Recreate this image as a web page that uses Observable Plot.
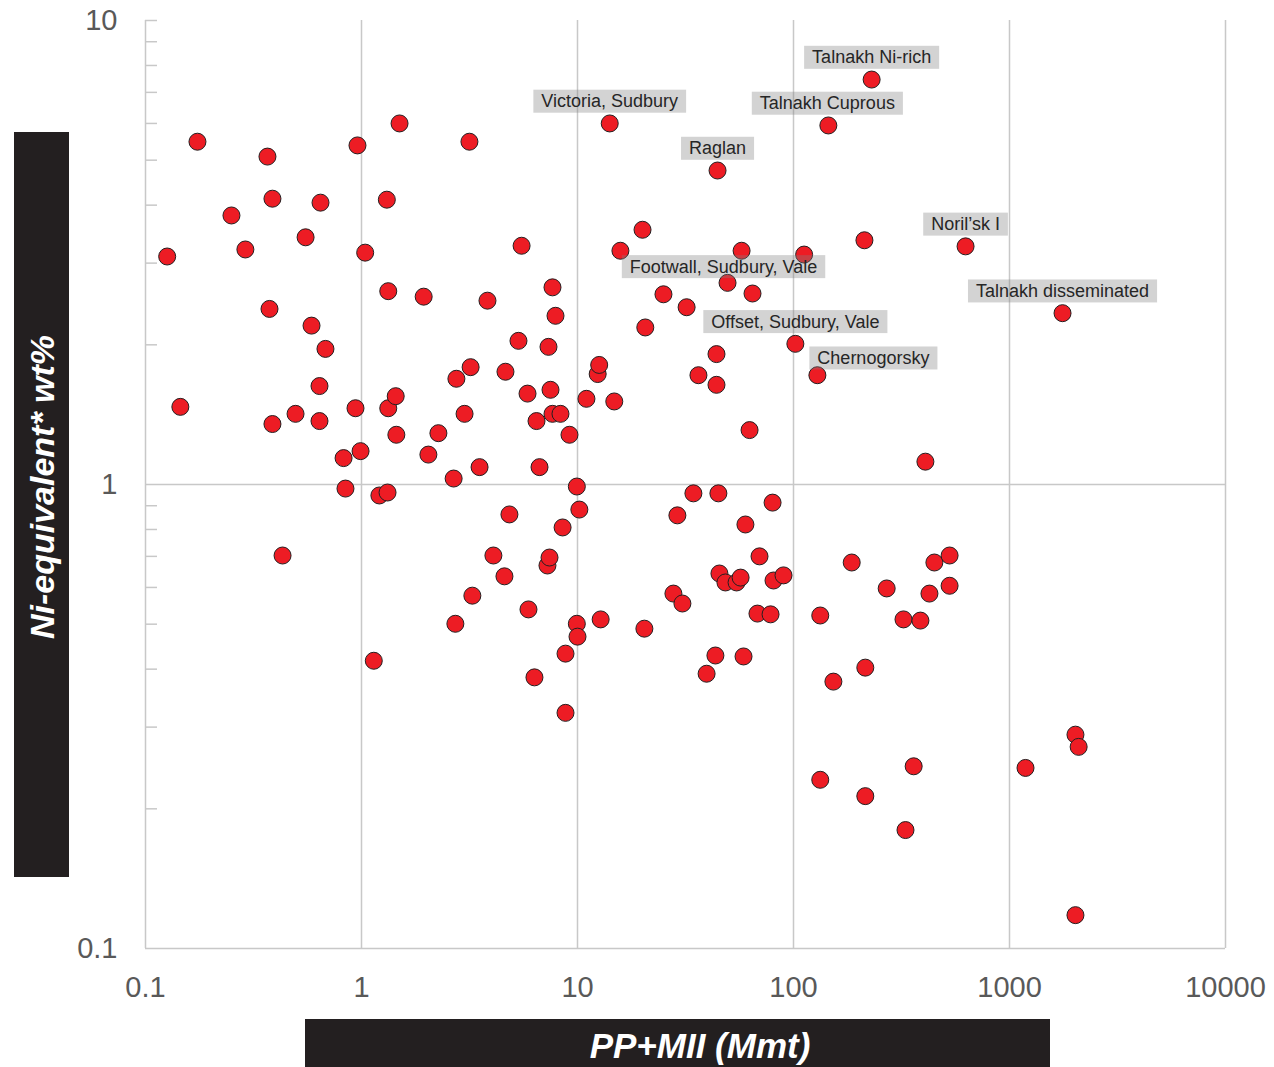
<!DOCTYPE html>
<html>
<head>
<meta charset="utf-8">
<script src="https://cdn.jsdelivr.net/npm/d3@7"></script>
<script src="https://cdn.jsdelivr.net/npm/@observablehq/plot@0.6"></script>
<style>
  body { margin: 0; background: #fff; font-family: "Liberation Sans", Arial, sans-serif; }
  #wrap { position: relative; width: 1274px; height: 1067px; overflow: hidden; background: #fff; }
  #wrap svg { position: absolute; left: 0; top: 0; }
  .ybox { position: absolute; left: 14px; top: 132px; width: 55px; height: 745px; background: #231f20; }
  .ytitle { position: absolute; left: 41.5px; top: 487px; transform: translate(-50%, -50%) rotate(-90deg);
            color: #fff; font-weight: bold; font-style: italic; font-size: 34px; white-space: nowrap; line-height: 1; }
  .xbox { position: absolute; left: 305px; top: 1019px; width: 745px; height: 60px; background: #231f20; }
  .xtitle { position: absolute; left: 700px; top: 1045px; transform: translate(-50%, -50%);
            color: #fff; font-weight: bold; font-style: italic; font-size: 35px; white-space: nowrap; line-height: 1; }
</style>
</head>
<body>
<div id="wrap">
  <div class="ybox"></div>
  <div class="xbox"></div>
</div>
<script>
// ---- Data ----
// Unlabelled deposits: PP+MII (Mmt) and Ni-equivalent wt%
const ppMii = [
  0.126, 0.174, 0.145, 0.250, 0.290, 0.367, 0.387, 0.375, 0.387, 0.431,
  0.495, 0.551, 0.587, 0.646, 0.639, 0.639, 0.681, 0.826, 0.843, 0.938,
  0.958, 0.990, 1.04, 1.14, 1.21, 1.32, 1.31, 1.33, 1.33, 1.44,
  1.50, 1.45, 1.94, 2.04, 2.27, 2.67, 2.72, 2.75, 3.00, 3.16,
  3.20, 3.26, 3.52, 3.83, 4.08, 4.59, 4.64, 4.84, 5.33, 5.51,
  5.93, 5.87, 6.32, 6.46, 6.67, 7.26, 7.42, 7.34, 7.50, 7.66,
  7.66, 7.91, 8.34, 8.53, 8.80, 8.80, 9.18, 9.93, 9.93, 10.0,
  10.2, 11.0, 12.4, 12.6, 12.8, 14.8, 15.8, 20.0, 20.4, 20.6,
  25.0, 27.8, 29.0, 30.6, 32.0, 34.4, 36.3, 39.6, 43.5, 44.0,
  44.0, 44.9, 45.4, 48.4, 54.5, 56.9, 57.5, 58.7, 59.9, 62.6,
  64.6, 69.6, 68.1, 78.3, 80.0, 80.8, 89.9, 112, 133, 133,
  153, 186, 213, 215, 215, 270, 323, 330, 360, 387,
  408, 426, 449, 528, 528, 1186, 2020, 2090, 2020
];
const niEq = [
  3.10, 5.48, 1.47, 3.80, 3.21, 5.09, 4.13, 2.39, 1.35, 0.703,
  1.42, 3.41, 2.20, 4.05, 1.63, 1.37, 1.96, 1.14, 0.980, 1.46,
  5.38, 1.18, 3.16, 0.417, 0.947, 0.961, 4.11, 2.61, 1.46, 1.55,
  6.00, 1.28, 2.54, 1.16, 1.29, 1.03, 0.501, 1.69, 1.42, 5.48,
  1.79, 0.576, 1.09, 2.49, 0.703, 0.634, 1.75, 0.862, 2.04, 3.27,
  0.538, 1.57, 0.384, 1.37, 1.09, 0.669, 0.696, 1.98, 1.60, 2.66,
  1.42, 2.31, 1.42, 0.808, 0.432, 0.322, 1.28, 0.990, 0.501, 0.470,
  0.883, 1.53, 1.73, 1.81, 0.512, 1.51, 3.19, 3.54, 0.489, 2.18,
  2.57, 0.582, 0.858, 0.554, 2.41, 0.957, 1.72, 0.391, 0.428, 1.91,
  1.64, 0.957, 0.643, 0.615, 0.615, 0.630, 3.19, 0.426, 0.820, 1.31,
  2.58, 0.700, 0.527, 0.525, 0.914, 0.621, 0.637, 3.13, 0.231, 0.522,
  0.376, 0.679, 3.36, 0.213, 0.403, 0.597, 0.512, 0.180, 0.247, 0.509,
  1.12, 0.582, 0.679, 0.703, 0.605, 0.245, 0.289, 0.272, 0.118
];

// Labelled deposits
const depositNames = [
  "Victoria, Sudbury", "Raglan", "Footwall, Sudbury, Vale", "Offset, Sudbury, Vale",
  "Chernogorsky", "Talnakh Cuprous", "Talnakh Ni-rich", "Noril\u2019sk I", "Talnakh disseminated"
];
const depositPP = [14.1, 44.5, 49.5, 102, 129, 145, 230, 626, 1760];
const depositNi = [6.00, 4.75, 2.72, 2.01, 1.72, 5.94, 7.46, 3.26, 2.34];

// Axis ticks
const xTicks = [0.1, 1, 10, 100, 1000, 10000];
const yTicks = [0.1, 1, 10];
const yMinorTicks = [0.2, 0.3, 0.4, 0.5, 0.6, 0.7, 0.8, 0.9, 2, 3, 4, 5, 6, 7, 8, 9, 10];

// ---- Build ----
const FONT = '"Liberation Sans", Arial, sans-serif';
const GRID = "#c8c8c8";
const RED = "#ed1c24";
const AXIS_TEXT = "#595959";

const points = ppMii.map((x, i) => ({x, y: niEq[i]}));
const deposits = depositNames.map((name, i) => ({name, x: depositPP[i], y: depositNi[i]}));

// label placement tweaks (styling, not data)
const nudge = {
  "Chernogorsky": [56, -17],
  "Footwall, Sudbury, Vale": [-4, -16],
  "Talnakh Cuprous": [-1, -22]
};

const labelMarks = deposits.map(d => {
  const [dx, dy] = nudge[d.name] || [0, -22];
  return Plot.text([d], {x: "x", y: "y", text: "name", dx, dy, fontSize: 18, fill: "#262626"});
});

const chart = Plot.plot({
  width: 1274,
  height: 1067,
  marginLeft: 145,
  marginRight: 49,
  marginTop: 20,
  marginBottom: 119,
  x: {type: "log", domain: [0.1, 10000]},
  y: {type: "log", domain: [0.1, 10]},
  style: {fontFamily: FONT, background: "transparent", overflow: "visible"},
  marks: [
    Plot.gridX(xTicks.slice(1), {stroke: GRID, strokeOpacity: 1, strokeWidth: 1.5}),
    Plot.gridY([1], {stroke: GRID, strokeOpacity: 1, strokeWidth: 1.5}),
    Plot.ruleX([0.1], {stroke: GRID, strokeWidth: 1.5}),
    Plot.ruleY([0.1], {stroke: GRID, strokeWidth: 1.5}),
    Plot.axisY({ticks: yMinorTicks, tickSize: -12, tickFormat: () => "", stroke: GRID, strokeWidth: 1.5, label: null}),
    Plot.axisY({ticks: yTicks, tickSize: 0, tickPadding: 28, fontSize: 29, fill: AXIS_TEXT, tickFormat: d => String(d), label: null}),
    Plot.axisX({ticks: xTicks, tickSize: 0, tickPadding: 28, fontSize: 29, fill: AXIS_TEXT, tickFormat: d => String(d), label: null}),
    Plot.dot(points, {x: "x", y: "y", r: 8.5, fill: RED, stroke: "#231f20", strokeWidth: 1}),
    Plot.dot(deposits, {x: "x", y: "y", r: 8.5, fill: RED, stroke: "#231f20", strokeWidth: 1}),
    ...labelMarks
  ]
});

const wrap = document.getElementById("wrap");
wrap.insertBefore(chart, wrap.firstChild);

// grey label backgrounds behind the deposit names
chart.querySelectorAll('g[aria-label="text"] text').forEach(t => {
  const b = t.getBBox();
  const r = document.createElementNS("http://www.w3.org/2000/svg", "rect");
  r.setAttribute("x", b.x - 8);
  r.setAttribute("y", b.y - 1.5);
  r.setAttribute("width", b.width + 16);
  r.setAttribute("height", b.height + 3);
  r.setAttribute("fill", "#808080");
  r.setAttribute("fill-opacity", "0.35");
  const tr = t.getAttribute("transform");
  if (tr) r.setAttribute("transform", tr);
  t.parentNode.insertBefore(r, t);
});

// axis titles (HTML overlays)
const yt = document.createElement("div");
yt.className = "ytitle";
yt.textContent = "Ni-equivalent* wt%";
wrap.appendChild(yt);
const xt = document.createElement("div");
xt.className = "xtitle";
xt.textContent = "PP+MII (Mmt)";
wrap.appendChild(xt);
</script>
</body>
</html>
